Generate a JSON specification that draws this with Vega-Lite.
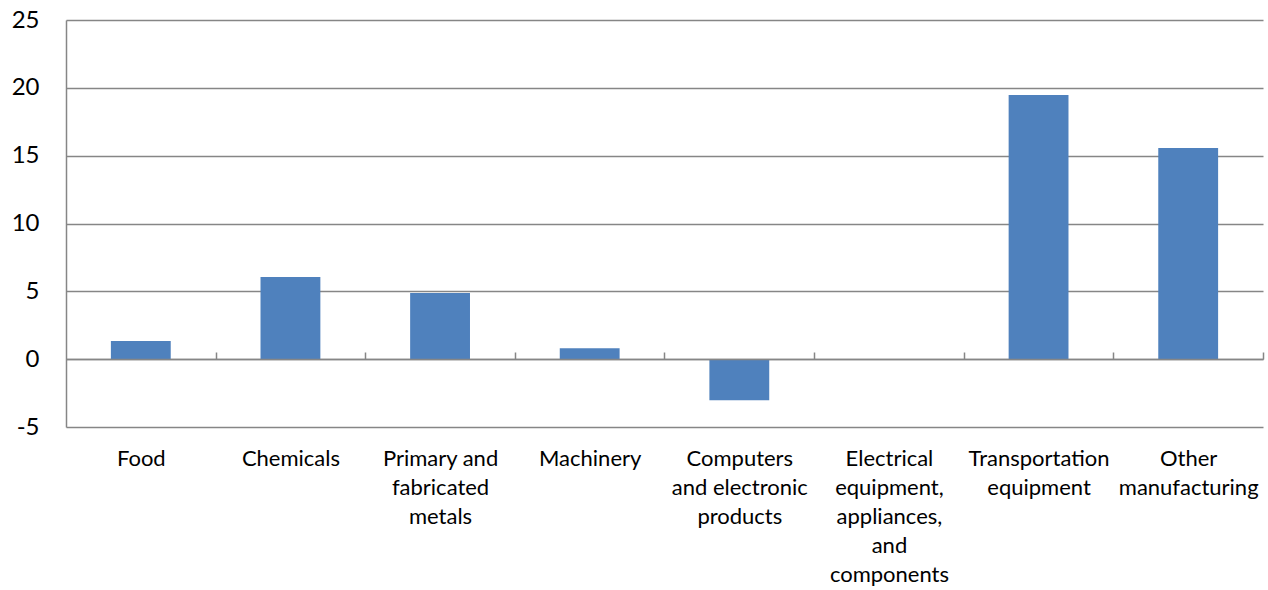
{
  "$schema": "https://vega.github.io/schema/vega-lite/v6.json",
  "width": 1197,
  "height": 407,
  "autosize": {"type": "none"},
  "padding": {"left": 66, "top": 20, "right": 5, "bottom": 163},
  "background": "white",
  "config": {"view": {"stroke": null}, "font": "Lato"},
  "data": {
    "values": [
      {"category": "Food", "value": 1.33},
      {"category": "Chemicals", "value": 6.05},
      {"category": "Primary and\nfabricated\nmetals", "value": 4.87},
      {"category": "Machinery", "value": 0.81},
      {"category": "Computers\nand electronic\nproducts", "value": -3.02},
      {"category": "Electrical\nequipment,\nappliances,\nand\ncomponents", "value": 0},
      {"category": "Transportation\nequipment", "value": 19.47},
      {"category": "Other\nmanufacturing", "value": 15.56}
    ]
  },
  "mark": {"type": "bar", "color": "#4F81BD"},
  "encoding": {
    "x": {
      "field": "category",
      "type": "nominal",
      "sort": null,
      "scale": {"paddingInner": 0.6, "paddingOuter": 0.3},
      "axis": {
        "title": null,
        "orient": "bottom",
        "offset": -68,
        "tickOffset": 74.8,
        "labelOffset": -74.8,
        "tickSize": -7,
        "tickColor": "#868686",
        "tickWidth": 1.5,
        "domainColor": "#868686",
        "domainWidth": 1.5,
        "labelAngle": 0,
        "labelPadding": 96,
        "labelFontSize": 22,
        "labelColor": "#000000",
        "labelLineHeight": 29,
        "labelLimit": 0,
        "labelExpr": "split(datum.label, '\\n')",
        "zindex": 1
      }
    },
    "y": {
      "field": "value",
      "type": "quantitative",
      "scale": {"domain": [-5, 25], "nice": false},
      "axis": {
        "title": null,
        "values": [-5, 0, 5, 10, 15, 20, 25],
        "ticks": false,
        "grid": true,
        "gridColor": "#868686",
        "gridWidth": 1.5,
        "domainColor": "#868686",
        "domainWidth": 1.5,
        "labelFontSize": 24,
        "labelColor": "#000000",
        "labelPadding": 27,
        "labelExpr": "datum.value < 0 ? '-' + abs(datum.value) : '' + datum.value"
      }
    }
  }
}
